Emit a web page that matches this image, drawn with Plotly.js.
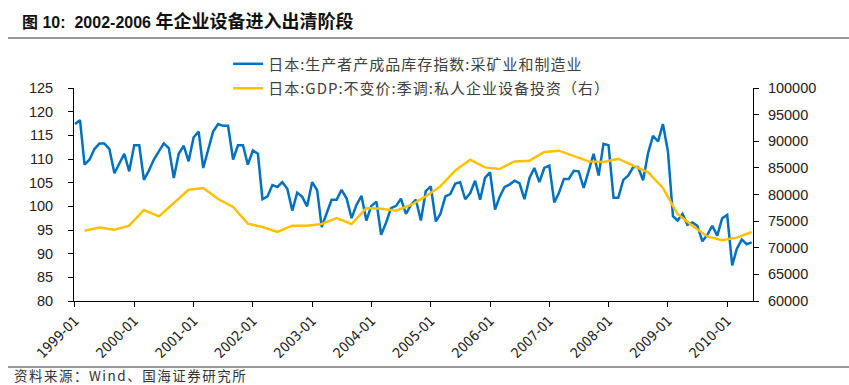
<!DOCTYPE html>
<html>
<head>
<meta charset="utf-8">
<script src="https://cdn.plot.ly/plotly-3.0.1.min.js"></script>
<style>
html,body{margin:0;padding:0;background:#fff;}
#chart{width:849px;height:385px;}
#chart .legendtext{letter-spacing:1px;}
#chart .legend .scrollbox{clip-path:none !important;}
#chart g.annotation[data-index="1"] text{letter-spacing:1.5px;}
</style>
</head>
<body>
<div id="chart"></div>
<script>
// Monthly series: Japan producer finished-goods inventory index (mining & manufacturing), from 1999-01
var inventoryStart = [1999, 1];
var inventoryIndex = [
  117.4,118.2,108.8,109.9,112.1,113.3,113.3,112.1,107.0,109.0,111.1,107.4,
  112.9,112.9,105.6,107.6,109.9,111.6,113.3,112.3,106.0,111.1,112.8,109.5,
  114.6,115.8,108.1,112.0,115.8,117.4,117.0,117.0,109.9,112.9,112.9,108.8,
  111.8,111.1,101.5,102.1,104.5,104.1,105.1,103.7,99.1,102.9,102.0,100.0,
  105.1,103.4,95.6,98.6,101.4,101.4,103.5,101.7,97.5,100.3,102.2,97.0,
  100.1,101.0,94.0,96.6,99.6,100.1,101.6,98.4,100.3,101.4,97.0,
  103.2,104.2,96.8,98.4,102.1,102.6,104.8,105.1,101.5,102.8,105.4,101.4,
  106.0,107.2,99.3,102.0,104.1,104.6,105.4,104.9,101.5,106.0,108.1,105.1,
  108.1,108.6,100.8,102.8,105.8,105.8,107.5,107.4,103.9,107.5,111.1,106.5,
  113.2,112.9,101.8,101.8,105.6,106.5,108.3,108.3,105.5,111.3,114.9,113.7,
  117.4,111.6,97.9,97.0,98.4,96.1,96.6,95.9,92.6,94.0,95.9,93.8,
  97.5,98.2,87.5,91.0,93.0,92.0,92.4
];
// Quarterly series: Japan real GDP, seasonally adjusted, private non-residential investment (right axis), from 1999-03
var capexStart = [1999, 3];
var capexGDP = [
  73200,73820,73390,74140,77090,75890,78400,80900,81220,79150,77650,74520,
  73890,72960,74140,74140,74460,75590,74460,77460,77340,76950,78030,79650,
  81520,84530,86540,85090,84790,86220,86350,87980,88230,87290,86220,86100,
  86720,85410,84150,81220,76340,74140,72130,71400,71900,72950
];
var yearLabels = ['1999-01','2000-01','2001-01','2002-01','2003-01','2004-01',
  '2005-01','2006-01','2007-01','2008-01','2009-01','2010-01'];
var seriesNames = ['日本:生产者产成品库存指数:采矿业和制造业', '日本:GDP:不变价:季调:私人企业设备投资（右）'];
var titleHead = '图 10:&nbsp;&nbsp;2002-2006 ';
var titleTail = '年企业设备进入出清阶段';
var sourceNote = '资料来源：Wind、国海证券研究所';

function monthSeq(start, n, step) {
  var out = [], y = start[0], m = start[1];
  for (var i = 0; i < n; i++) {
    out.push(y + '-' + (m < 10 ? '0' + m : m) + '-01');
    m += step;
    while (m > 12) { m -= 12; y += 1; }
  }
  return out;
}
var xInv = monthSeq(inventoryStart, inventoryIndex.length, 1);
var xCap = monthSeq(capexStart, capexGDP.length, 3);
var tickVals = yearLabels.map(function (s) { return s + '-01'; });

var traces = [
  { x: xInv, y: inventoryIndex, type: 'scatter', mode: 'lines', name: seriesNames[0],
    line: { color: '#0070C0', width: 2.5 }, legendgroup: 'a', hoverinfo: 'skip' },
  { x: xCap, y: capexGDP, type: 'scatter', mode: 'lines', name: seriesNames[1], yaxis: 'y2',
    line: { color: '#FFC000', width: 2.5 }, legendgroup: 'b', hoverinfo: 'skip' }
];

var tickFont = { family: 'Liberation Sans, Arial, sans-serif', size: 14.5, color: '#222' };
var layout = {
  width: 849, height: 385,
  margin: { l: 74, r: 96, t: 88, b: 84 },
  paper_bgcolor: '#fff', plot_bgcolor: '#fff',
  showlegend: true,
  legend: { x: 0.227, xanchor: 'left', y: 1.19, yanchor: 'top', itemwidth: 30,
    traceorder: 'grouped', tracegroupgap: 2,
    font: { family: 'Noto Sans CJK SC, sans-serif', size: 15, color: '#404040' },
    bgcolor: 'rgba(0,0,0,0)' },
  xaxis: { type: 'date', range: ['1998-12-26', '2010-06-09'],
    tickmode: 'array', tickvals: tickVals, ticktext: yearLabels, tickangle: -45,
    ticks: 'outside', ticklen: 5, tickcolor: '#000', showline: true, linecolor: '#000', linewidth: 1,
    showgrid: false, zeroline: false,
    tickfont: { family: 'Liberation Sans Narrow, DejaVu Sans Condensed, Liberation Sans, sans-serif', size: 14, color: '#222' } },
  yaxis: { range: [80, 125], tick0: 80, dtick: 5, ticks: 'outside', ticklen: 5, tickcolor: '#000',
    showline: true, linecolor: '#000', linewidth: 1, showgrid: false, zeroline: false,
    ticklabelstandoff: 12, tickfont: tickFont },
  yaxis2: { overlaying: 'y', side: 'right', range: [60000, 100000], tick0: 60000, dtick: 5000,
    tickformat: 'd', ticks: 'outside', ticklen: 5, tickcolor: '#000',
    showline: true, linecolor: '#000', linewidth: 1, showgrid: false, zeroline: false,
    ticklabelstandoff: 6, tickfont: tickFont },
  annotations: [
    { text: '<b>' + titleHead + '<span style="font-size:18px">' + titleTail + '</span></b>',
      xref: 'paper', yref: 'paper', x: -0.0795, y: 1.31, align: 'left',
      xanchor: 'left', yanchor: 'middle', showarrow: false,
      font: { family: 'Liberation Sans, Noto Sans CJK SC, sans-serif', size: 16, color: '#111' } },
    { text: sourceNote, xref: 'paper', yref: 'paper', x: -0.0913, y: -0.347, align: 'left',
      xanchor: 'left', yanchor: 'middle', showarrow: false,
      font: { family: 'Noto Sans CJK SC, sans-serif', size: 13.5, color: '#333' } }
  ],
  shapes: [
    { type: 'line', xref: 'paper', yref: 'paper', x0: -0.0972, x1: 1.1414, y0: 1.2347, y1: 1.2347,
      line: { color: '#333', width: 1 } },
    { type: 'line', xref: 'paper', yref: 'paper', x0: -0.0972, x1: 1.1414, y0: -0.3099, y1: -0.3099,
      line: { color: '#333', width: 1 } }
  ]
};

Plotly.newPlot('chart', traces, layout, { staticPlot: true, displayModeBar: false });
</script>
</body>
</html>
